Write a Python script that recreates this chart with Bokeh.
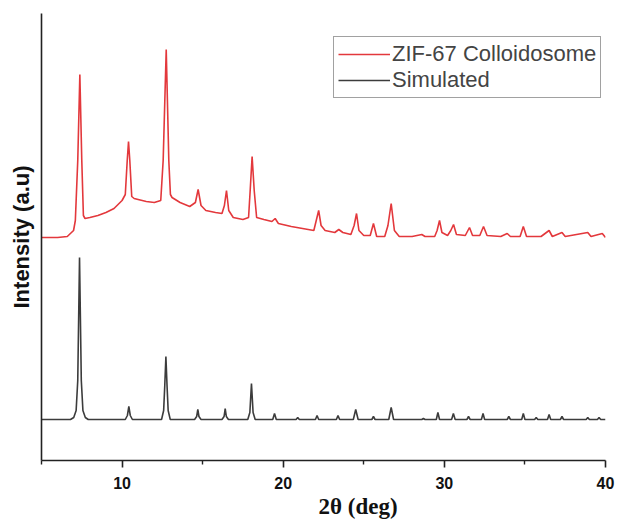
from bokeh.plotting import figure
from bokeh.models import Range1d, FixedTicker, Legend, LegendItem, Title
from bokeh.embed import file_html
from bokeh.resources import INLINE

# ZIF-67 Colloidosome (measured, offset) : 2theta (deg), intensity (a.u.)
exp_x = [5.0, 6.0, 6.6, 6.99, 7.1, 7.25, 7.38, 7.5, 7.6, 7.7, 8.0, 8.5, 9.0, 9.5, 10.0,
         10.2, 10.32, 10.4, 10.48, 10.6, 10.75, 11.5, 12.0, 12.4, 12.55, 12.74, 12.9, 13.0, 13.1,
         13.6, 14.2, 14.55, 14.72, 14.9, 15.2, 15.8, 16.2, 16.35, 16.48, 16.62, 16.9, 17.5,
         17.85, 17.95, 18.07, 18.2, 18.35, 18.8, 19.3, 19.5, 19.7, 20.5, 21.2, 21.9, 22.05,
         22.2, 22.35, 22.6, 23.2, 23.45, 23.7, 24.2, 24.4, 24.55, 24.7, 25.0, 25.4, 25.6,
         25.8, 26.3, 26.5, 26.7, 26.9, 27.2, 28.0, 28.6, 28.8, 29.4, 29.55, 29.7, 29.85,
         30.2, 30.4, 30.57, 30.75, 31.3, 31.56, 31.75, 32.2, 32.43, 32.65, 33.5, 33.9,
         34.1, 34.7, 34.9, 35.1, 36.0, 36.5, 36.7, 37.3, 37.5, 38.9, 39.1, 39.8, 40.0]
exp_y = [223, 223, 224, 230, 240, 300, 386, 300, 245, 242, 243, 245, 248, 252, 260,
         266, 300, 319, 300, 264, 262, 259, 258, 260, 300, 411, 300, 266, 263,
         258, 254, 258, 271, 255, 250, 248, 247, 255, 270, 250, 243, 241,
         243, 270, 304, 270, 243, 241, 239, 242, 237, 234, 232, 230, 240,
         250, 235, 230, 228, 231, 228, 226, 235, 247, 230, 225, 225, 237,
         224, 224, 235, 257, 230, 224, 224, 226, 224, 224, 230, 240, 228,
         225, 230, 236, 226, 225, 233, 225, 225, 234, 225, 224, 227,
         224, 224, 234, 224, 224, 230, 224, 228, 224, 228, 224, 227, 223]

# Simulated pattern : 2theta (deg), intensity (a.u.)
sim_x = [5.0, 6.8, 7.0, 7.15, 7.25, 7.36, 7.47, 7.57, 7.72, 7.9,
         10.2, 10.33, 10.42, 10.51, 10.64,
         12.45, 12.58, 12.65, 12.72, 12.79, 12.86, 12.99,
         14.5, 14.63, 14.7, 14.77, 14.9,
         16.2, 16.33, 16.4, 16.47, 16.6,
         17.8, 17.93, 18.03, 18.13, 18.26,
         19.35, 19.46, 19.57, 20.8, 20.9, 21.0, 22.0, 22.1, 22.2, 23.3, 23.4, 23.5,
         24.35, 24.5, 24.65, 25.5, 25.6, 25.7, 26.55, 26.7, 26.85, 28.6, 28.7, 28.8,
         29.5, 29.6, 29.7, 30.45, 30.56, 30.67, 31.4, 31.5, 31.6, 32.3, 32.4, 32.5,
         33.9, 34.0, 34.1, 34.8, 34.9, 35.0, 35.6, 35.7, 35.8, 36.4, 36.5, 36.6,
         37.2, 37.3, 37.4, 38.8, 38.9, 39.0, 39.5, 39.6, 39.7, 40.0]
sim_y = [41, 41, 43, 50, 80, 203, 80, 50, 43, 41,
         41, 45, 54, 45, 41,
         41, 50, 75, 104, 75, 50, 41,
         41, 44, 51, 44, 41,
         41, 44, 52, 44, 41,
         41, 48, 77, 48, 41,
         41, 47, 41, 41, 43, 41, 41, 45, 41, 41, 45, 41,
         41, 51, 41, 41, 44, 41, 41, 53, 41, 41, 42, 41,
         41, 48, 41, 41, 47, 41, 41, 44, 41, 41, 47, 41,
         41, 44, 41, 41, 47, 41, 41, 43, 41, 41, 46, 41,
         41, 44, 41, 41, 43, 41, 41, 43, 41, 41]

x_ticks = [10, 20, 30, 40]
x_minor = [5, 15, 25, 35]
series_names = ["ZIF-67 Colloidosome", "Simulated"]
x_title = "2θ (deg)"
y_title = "Intensity (a.u)"

p = figure(width=618, height=519, output_backend="svg", toolbar_location=None,
           x_range=Range1d(5, 40), y_range=Range1d(0, 447),
           min_border_left=41, min_border_right=13, min_border_top=13, min_border_bottom=59)
p.outline_line_color = None
p.xgrid.visible = False
p.ygrid.visible = False
p.background_fill_color = "white"
p.border_fill_color = "white"

r1 = p.line(exp_x, exp_y, line_color="#e3383c", line_width=1.6)
r2 = p.line(sim_x, sim_y, line_color="#3c3c3c", line_width=1.6)

xa = p.xaxis[0]
xa.ticker = FixedTicker(ticks=x_ticks, minor_ticks=x_minor)
xa.axis_line_width = 1.6
xa.axis_line_color = "#222222"
xa.major_tick_line_width = 1.6
xa.major_tick_line_color = "#222222"
xa.minor_tick_line_color = "#222222"
xa.minor_tick_line_width = 1.4
xa.major_tick_in = 0
xa.major_tick_out = 7
xa.minor_tick_in = 0
xa.minor_tick_out = 4
xa.major_label_text_font = "Liberation Sans"
xa.major_label_text_font_style = "bold"
xa.major_label_text_font_size = "16px"
xa.major_label_text_color = "#111111"
xa.major_label_standoff = 9

# x-axis title, placed slightly right of centre as in the original
p.add_layout(Title(text=x_title, align="left", offset=277, standoff=0,
                   text_font="Liberation Serif", text_font_style="bold",
                   text_font_size="23px", text_color="#111111"), "below")

ya = p.yaxis[0]
ya.ticker = FixedTicker(ticks=[])
ya.axis_line_width = 1.6
ya.axis_line_color = "#222222"
ya.major_tick_line_color = None
ya.minor_tick_line_color = None
ya.major_tick_in = 0
ya.major_tick_out = 0
ya.minor_tick_out = 0
ya.major_label_standoff = 0
ya.axis_label = y_title
ya.axis_label_text_font = "Liberation Sans"
ya.axis_label_text_font_style = "bold"
ya.axis_label_text_font_size = "22px"
ya.axis_label_text_color = "#111111"
ya.axis_label_standoff = 8

legend = Legend(items=[LegendItem(label=series_names[0], renderers=[r1]),
                       LegendItem(label=series_names[1], renderers=[r2])],
                location=(292, 362), margin=0, padding=4, spacing=0,
                label_text_font="Liberation Sans", label_text_font_size="22px",
                label_height=26, glyph_height=26, glyph_width=52, label_standoff=2,
                border_line_color="#444444", border_line_width=1,
                background_fill_color="white", background_fill_alpha=1.0)
p.add_layout(legend, "center")

open("out.html", "w").write(file_html(p, INLINE))
